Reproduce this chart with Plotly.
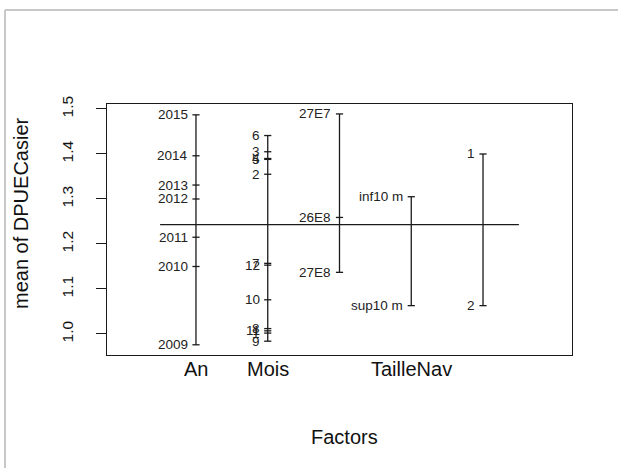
import plotly.graph_objects as go

# ---- data ----
factor_names = ["An", "Mois", "Rectangle", "TailleNav", "Facteur5"]
axis_tick_positions = [1, 2, 4]
axis_tick_labels = ["An", "Mois", "TailleNav"]

an_levels = ["2009", "2010", "2011", "2012", "2013", "2014", "2015"]
an_means = [0.976, 1.150, 1.215, 1.300, 1.331, 1.396, 1.487]

mois_levels = ["1", "2", "3", "4", "5", "6", "7", "8", "9", "10", "11", "12"]
mois_means = [1.002, 1.355, 1.405, 1.390, 1.388, 1.441, 1.157, 1.012, 0.984, 1.076, 1.007, 1.153]

rect_levels = ["27E7", "26E8", "27E8"]
rect_means = [1.489, 1.259, 1.137]

taille_levels = ["inf10 m", "sup10 m"]
taille_means = [1.305, 1.063]

f5_levels = ["1", "2"]
f5_means = [1.400, 1.063]

grand_mean = 1.243

y_tick_values = [1.0, 1.1, 1.2, 1.3, 1.4, 1.5]
y_tick_labels = ["1.0", "1.1", "1.2", "1.3", "1.4", "1.5"]

groups = [
    (an_levels, an_means),
    (mois_levels, mois_means),
    (rect_levels, rect_means),
    (taille_levels, taille_means),
    (f5_levels, f5_means),
]

FONT = "Liberation Sans, Arial, sans-serif"
LINE_COL = "#1a1a1a"

fig = go.Figure()
annotations = []

for i, (levels, means) in enumerate(groups, start=1):
    fig.add_trace(go.Scatter(
        x=[i, i], y=[min(means), max(means)], mode="lines",
        line=dict(color=LINE_COL, width=1.3), hoverinfo="skip", showlegend=False))
    xs, ys = [], []
    for m in means:
        xs += [i - 0.05, i + 0.05, None]
        ys += [m, m, None]
    fig.add_trace(go.Scatter(
        x=xs, y=ys, mode="lines",
        line=dict(color=LINE_COL, width=1.3), hoverinfo="skip", showlegend=False))
    for lab, m in zip(levels, means):
        annotations.append(dict(
            x=i - 0.085, y=m, xref="x", yref="y", text=lab, showarrow=False,
            xanchor="right", yanchor="middle",
            font=dict(family=FONT, size=13.5, color="#222222")))

fig.add_trace(go.Scatter(
    x=[0.5, len(groups) + 0.5], y=[grand_mean, grand_mean], mode="lines",
    line=dict(color=LINE_COL, width=1.3), hoverinfo="skip", showlegend=False))

# factor names under the box
for pos, lab in zip(axis_tick_positions, axis_tick_labels):
    annotations.append(dict(
        x=pos, y=-0.0558, xref="x", yref="paper", text=lab, showarrow=False,
        xanchor="center", yanchor="middle",
        font=dict(family=FONT, size=20, color="#111111")))

annotations.append(dict(
    x=-0.185, y=0.5657, xref="paper", yref="paper", text="mean of DPUECasier",
    textangle=-90, showarrow=False, xanchor="center", yanchor="middle",
    font=dict(family=FONT, size=20, color="#111111")))
annotations.append(dict(
    x=0.5097, y=-0.3267, xref="paper", yref="paper", text="Factors",
    showarrow=False, xanchor="center", yanchor="middle",
    font=dict(family=FONT, size=20, color="#111111")))

shapes = [
    dict(type="line", xref="paper", yref="paper", x0=-0.2194, x1=-0.2194,
         y0=1.3745, y1=-0.5, line=dict(color="#c8c8c8", width=2)),
    dict(type="line", xref="paper", yref="paper", x0=-0.2194, x1=1.2,
         y0=1.3745, y1=1.3745, line=dict(color="#c8c8c8", width=2)),
]

fig.update_layout(
    width=618, height=468,
    margin=dict(l=107, r=46, t=104, b=113),
    paper_bgcolor="white", plot_bgcolor="white",
    showlegend=False,
    annotations=annotations, shapes=shapes,
    font=dict(family=FONT, color="#111111"),
    xaxis=dict(
        range=[-0.24, 6.24], showgrid=False, zeroline=False,
        showticklabels=False, ticks="",
        showline=True, mirror=True, linecolor=LINE_COL, linewidth=1.3,
    ),
    yaxis=dict(
        range=[0.9533, 1.5111], showgrid=False, zeroline=False,
        tickmode="array", tickvals=y_tick_values, ticktext=y_tick_labels,
        ticks="outside", ticklen=10, tickwidth=1.3, tickcolor=LINE_COL,
        tickangle=-90, tickfont=dict(family=FONT, size=15.5, color="#111111"),
        showline=True, mirror=True, linecolor=LINE_COL, linewidth=1.3,
        ticklabelstandoff=17,
    ),
)

fig.write_html(
    "out.html",
    config={"displayModeBar": False},
    post_script="document.body.style.margin='0';document.body.style.overflow='hidden';",
)
